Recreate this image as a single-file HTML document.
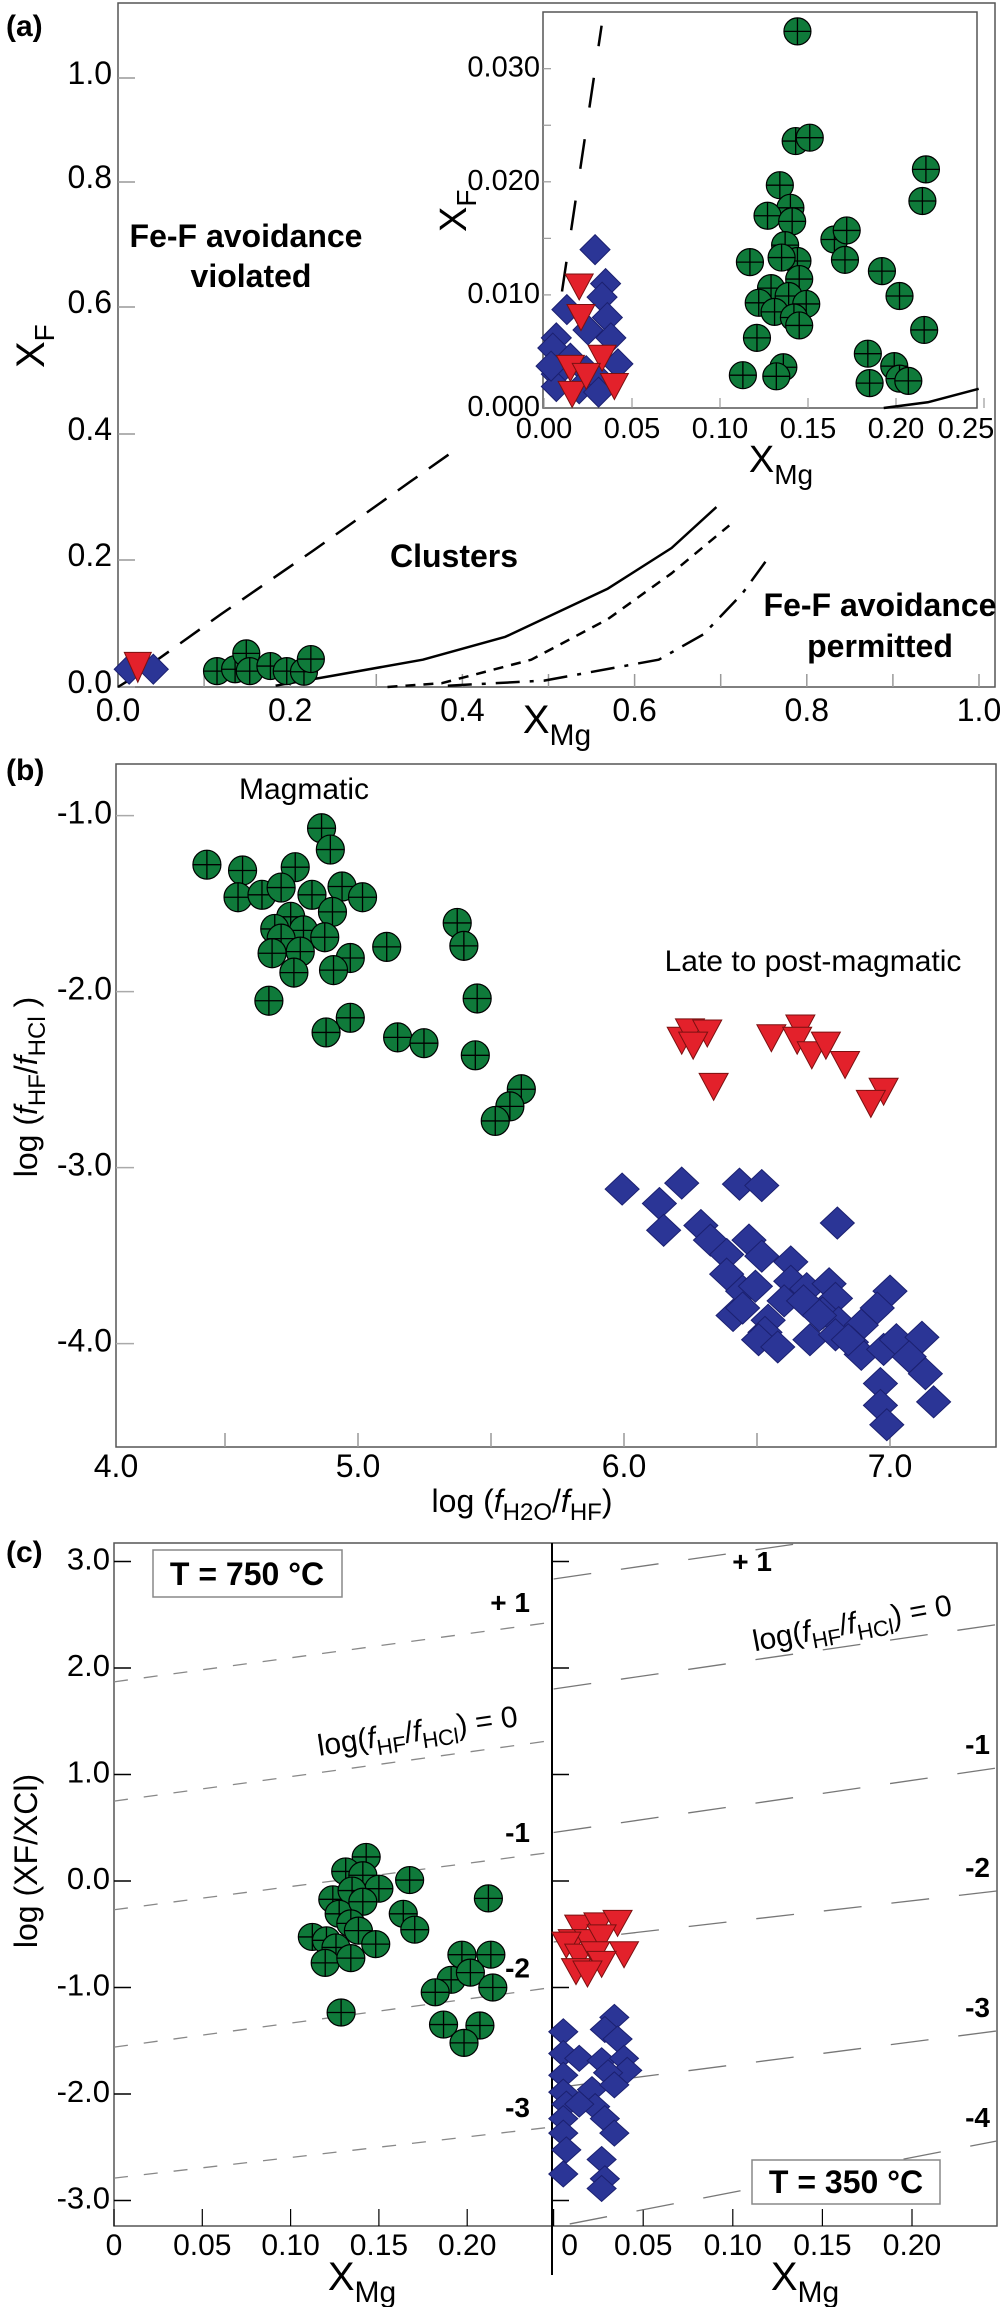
<!DOCTYPE html>
<html><head><meta charset="utf-8"><style>
html,body{margin:0;padding:0;background:#fff}
svg{display:block;font-family:"Liberation Sans",Arial,sans-serif}
.b{font-weight:bold}
</style></head><body>
<svg id="fig" xmlns="http://www.w3.org/2000/svg" width="1000" height="2307" viewBox="0 0 1000 2307">
<defs>
<clipPath id="clipC"><rect x="114" y="1543" width="883" height="683"/></clipPath>
<clipPath id="clipCL"><rect x="114" y="1543" width="438" height="683"/></clipPath>
<clipPath id="clipCR"><rect x="552" y="1543" width="445" height="683"/></clipPath>
</defs>
<g id="pa"></g>
<g id="pb"></g>
<g id="pc"></g>

<!-- static text panel a -->
<text x="6" y="36" font-size="30" class="b">(a)</text>
<text x="246" y="247" font-size="32" class="b" text-anchor="middle">Fe-F avoidance</text>
<text x="251" y="287" font-size="32" class="b" text-anchor="middle">violated</text>
<text x="454" y="567" font-size="32" class="b" text-anchor="middle">Clusters</text>
<text x="880" y="616" font-size="32" class="b" text-anchor="middle">Fe-F avoidance</text>
<text x="880" y="657" font-size="32" class="b" text-anchor="middle">permitted</text>
<text transform="translate(44,368) rotate(-90)" font-size="40">X<tspan font-size="28" dy="10">F</tspan></text>
<text x="557" y="733" font-size="40" text-anchor="middle">X<tspan font-size="30" dy="12">Mg</tspan></text>
<text transform="translate(466,232) rotate(-90)" font-size="38">X<tspan font-size="28" dy="10">F</tspan></text>
<text x="781" y="472" font-size="38" text-anchor="middle">X<tspan font-size="28" dy="12">Mg</tspan></text>

<!-- panel b text -->
<text x="6" y="780" font-size="30" class="b">(b)</text>
<text x="304" y="799" font-size="30" text-anchor="middle">Magmatic</text>
<text x="813" y="971" font-size="30" text-anchor="middle">Late to post-magmatic</text>
<text transform="translate(37,1087) rotate(-90)" font-size="32" text-anchor="middle">log (<tspan font-style="italic">f</tspan><tspan font-size="24" dy="8">HF</tspan><tspan dy="-8">/</tspan><tspan font-style="italic">f</tspan><tspan font-size="24" dy="8">HCl</tspan><tspan dy="-8"> )</tspan></text>
<text x="522" y="1512" font-size="32" text-anchor="middle">log (<tspan font-style="italic">f</tspan><tspan font-size="24" dy="8">H2O</tspan><tspan dy="-8">/</tspan><tspan font-style="italic">f</tspan><tspan font-size="24" dy="8">HF</tspan><tspan dy="-8">)</tspan></text>

<!-- panel c text -->
<text x="6" y="1562" font-size="30" class="b">(c)</text>
<rect x="153" y="1550" width="189" height="47" fill="#fff" stroke="#888" stroke-width="1.5"/>
<text x="247" y="1585" font-size="32" class="b" text-anchor="middle">T = 750 °C</text>
<rect x="752" y="2160" width="188" height="44" fill="#fff" stroke="#888" stroke-width="1.5"/>
<text x="846" y="2193" font-size="32" class="b" text-anchor="middle">T = 350 °C</text>
<text transform="translate(37,1861) rotate(-90)" font-size="32" text-anchor="middle">log (XF/XCl)</text>
<text x="362" y="2290" font-size="40" text-anchor="middle">X<tspan font-size="30" dy="12">Mg</tspan></text>
<text x="805" y="2290" font-size="40" text-anchor="middle">X<tspan font-size="30" dy="12">Mg</tspan></text>
<text transform="translate(419,1741) rotate(-8.5)" font-size="30" text-anchor="middle">log(<tspan font-style="italic">f</tspan><tspan font-size="22" dy="8">HF</tspan><tspan dy="-8">/</tspan><tspan font-style="italic">f</tspan><tspan font-size="22" dy="8">HCl</tspan><tspan dy="-8">) = 0</tspan></text>
<text transform="translate(854,1633) rotate(-10.5)" font-size="30" text-anchor="middle">log(<tspan font-style="italic">f</tspan><tspan font-size="22" dy="8">HF</tspan><tspan dy="-8">/</tspan><tspan font-style="italic">f</tspan><tspan font-size="22" dy="8">HCl</tspan><tspan dy="-8">) = 0</tspan></text>
</svg>
<script>
const NS='http://www.w3.org/2000/svg';
// ---------- DATA ----------
// Panel (a) main
const aGreenX=[0.115,0.136,0.149,0.153,0.177,0.196,0.216,0.224];
const aGreenY=[0.025,0.028,0.053,0.025,0.033,0.025,0.024,0.044];
const aBlueX=[0.013,0.041];
const aBlueY=[0.028,0.028];
const aRedX=[0.023];
const aRedY=[0.031];
const aXTicks=[0,0.2,0.4,0.6,0.8,1.0];
const aXTickLabels=['0.0','0.2','0.4','0.6','0.8','1.0'];
const aYTicks=[0,0.2,0.4,0.6,0.8,1.0];
const aYTickLabels=['0.0','0.2','0.4','0.6','0.8','1.0'];
const curveLongX=[0.0,0.012,0.12,0.227,0.339,0.395];
const curveLongY=[0.0,0.010,0.115,0.215,0.324,0.378];
const curveSolidX=[0.183,0.25,0.354,0.45,0.569,0.643,0.695];
const curveSolidY=[0.002,0.018,0.043,0.079,0.155,0.219,0.284];
const curveShortX=[0.313,0.376,0.48,0.569,0.643,0.71];
const curveShortY=[0.0,0.006,0.043,0.107,0.179,0.255];
const curveDotX=[0.383,0.495,0.628,0.68,0.725,0.755];
const curveDotY=[0.002,0.01,0.043,0.083,0.147,0.203];
// Inset
const iGreenX=[0.144,0.143,0.151,0.217,0.215,0.134,0.140,0.127,0.141,0.165,0.172,0.137,0.171,0.117,0.144,0.135,0.145,0.192,0.202,0.129,0.122,0.139,0.149,0.131,0.142,0.145,0.216,0.121,0.184,0.136,0.199,0.113,0.132,0.185,0.202,0.207];
const iGreenY=[0.0333,0.0236,0.0239,0.0211,0.0183,0.0197,0.0177,0.0170,0.0165,0.0149,0.0157,0.0144,0.0131,0.0129,0.0130,0.0133,0.0114,0.0121,0.0099,0.0106,0.0093,0.0099,0.0092,0.0085,0.0080,0.0073,0.0069,0.0062,0.0048,0.0036,0.0037,0.0029,0.0028,0.0022,0.0026,0.0024];
const iBlueX=[0.029,0.035,0.033,0.036,0.038,0.042,0.007,0.005,0.015,0.007,0.024,0.031,0.007,0.020,0.031,0.013,0.025,0.004];
const iBlueY=[0.0140,0.0110,0.0098,0.0080,0.0062,0.0039,0.0062,0.0053,0.0044,0.0030,0.0033,0.0026,0.0019,0.0017,0.0014,0.0087,0.0069,0.0037];
const iRedX=[0.020,0.021,0.033,0.040,0.015,0.016,0.024];
const iRedY=[0.0107,0.0080,0.0044,0.0019,0.0035,0.0012,0.0028];
const iXTicks=[0,0.05,0.10,0.15,0.20,0.25];
const iXTickLabels=['0.00','0.05','0.10','0.15','0.20','0.25'];
const iYTicks=[0,0.010,0.020,0.030];
const iYTickLabels=['0.000','0.010','0.020','0.030'];
const iDashX=[0.0102,0.0327];
const iDashY=[0.0103,0.0338];
const iSolidX=[0.193,0.218,0.247];
const iSolidY=[0.0,0.0005,0.0017];
// Panel (b)
const bGreenX=[4.863,4.896,4.417,4.566,4.764,4.549,4.639,4.711,4.827,4.940,5.017,4.904,4.747,4.687,4.795,4.875,4.711,4.677,4.783,4.971,4.908,4.759,5.108,5.373,5.398,4.665,5.448,4.971,4.880,5.149,5.248,5.441,5.614,5.571,5.516];
const bGreenY=[-1.072,-1.193,-1.279,-1.312,-1.293,-1.464,-1.450,-1.409,-1.450,-1.403,-1.464,-1.547,-1.575,-1.644,-1.652,-1.691,-1.699,-1.782,-1.773,-1.809,-1.878,-1.892,-1.746,-1.610,-1.740,-2.052,-2.039,-2.149,-2.232,-2.260,-2.293,-2.362,-2.555,-2.652,-2.735];
const bRedX=[6.217,6.248,6.313,6.260,6.337,6.554,6.663,6.651,6.706,6.759,6.831,6.976,6.928];
const bRedY=[-2.279,-2.232,-2.238,-2.307,-2.541,-2.265,-2.210,-2.279,-2.362,-2.307,-2.417,-2.569,-2.638];
const bBlueX=[5.993,6.217,6.434,6.518,6.133,6.149,6.289,6.325,6.470,6.386,6.518,6.627,6.386,6.446,6.494,6.627,6.687,6.771,6.802,6.602,6.675,6.795,7.000,6.410,6.542,6.747,6.952,6.530,6.807,6.892,6.506,6.578,6.699,6.795,6.855,6.892,6.976,7.024,7.120,7.072,7.133,6.964,6.964,6.988,7.164,6.843,6.735,6.446];
const bBlueY=[-3.122,-3.088,-3.094,-3.102,-3.204,-3.356,-3.329,-3.412,-3.412,-3.494,-3.503,-3.536,-3.605,-3.702,-3.674,-3.646,-3.688,-3.660,-3.315,-3.757,-3.757,-3.743,-3.702,-3.840,-3.867,-3.826,-3.798,-3.936,-3.881,-3.895,-3.978,-4.019,-3.978,-3.950,-3.992,-4.061,-4.033,-3.978,-3.964,-4.075,-4.171,-4.227,-4.351,-4.461,-4.331,-3.978,-3.840,-3.798];
const bXTicks=[4.0,5.0,6.0,7.0];
const bXTickLabels=['4.0','5.0','6.0','7.0'];
const bXMinor=[4.5,5.0,5.5,6.0,6.5,7.0];
const bYTicks=[-1,-2,-3,-4];
const bYTickLabels=['-1.0','-2.0','-3.0','-4.0'];
// Panel (c)
const cGreenX=[0.1428,0.1312,0.1409,0.150,0.1239,0.1348,0.1275,0.1409,0.1341,0.1384,0.1123,0.1203,0.1257,0.1482,0.1196,0.1341,0.1674,0.1638,0.1703,0.212,0.197,0.2134,0.1909,0.2018,0.1819,0.2145,0.1286,0.1866,0.2072,0.1982];
const cGreenY=[0.226,0.090,0.054,-0.072,-0.172,-0.090,-0.308,-0.195,-0.398,-0.466,-0.525,-0.557,-0.624,-0.593,-0.769,-0.724,0.009,-0.308,-0.457,-0.163,-0.692,-0.692,-0.928,-0.860,-1.045,-1.000,-1.235,-1.348,-1.357,-1.520];
const cRedX=[0.0143,0.025,0.0357,0.0107,0.0196,0.0268,0.0071,0.0143,0.0232,0.0393,0.0268,0.0125,0.0189];
const cRedY=[-0.443,-0.421,-0.398,-0.579,-0.579,-0.534,-0.602,-0.715,-0.692,-0.692,-0.783,-0.851,-0.873];
const cBlueX=[0.0054,0.0339,0.0286,0.0357,0.0054,0.0143,0.0268,0.0393,0.0411,0.0054,0.0304,0.0054,0.0214,0.0339,0.0071,0.0232,0.0286,0.0054,0.0339,0.0054,0.0071,0.0268,0.0054,0.0286,0.0268,0.0143];
const cBlueY=[-1.416,-1.281,-1.394,-1.484,-1.620,-1.665,-1.688,-1.665,-1.778,-1.824,-1.801,-1.982,-1.959,-1.914,-2.095,-2.118,-2.231,-2.231,-2.367,-2.367,-2.525,-2.615,-2.751,-2.796,-2.887,-2.095];
const cYTicks=[3,2,1,0,-1,-2,-3];
const cYTickLabels=['3.0','2.0','1.0','0.0','-1.0','-2.0','-3.0'];
const cXTicks=[0,0.05,0.10,0.15,0.20];
const cXTickLabels=['0','0.05','0.10','0.15','0.20'];
const cLeftContourLabels=['+ 1','','-1','-2','-3'];
const cLeftStart=[1.87,0.75,-0.27,-1.56,-2.79];
const cLeftEnd=[2.43,1.32,0.27,-1.00,-2.31];
const cRightContourLabels=['+ 1','','-1','-2','-3','-4'];
const cRightStartX=[0,0,0,0,0,0.009];
const cRightStart=[2.836,1.803,0.455,-0.573,-1.944,-3.22];
const cRightEnd=[3.437,2.408,1.061,-0.094,-1.408,-2.441];

// ---------- SCALES ----------
function pw(vs,ps){return function(v){let i=0;while(i<vs.length-2&&v>vs[i+1])i++;return ps[i]+(v-vs[i])*(ps[i+1]-ps[i])/(vs[i+1]-vs[i]);};}
const xA=v=>118+v*861;
const yA=pw([0,0.2,0.4,0.6,0.8,1.0],[687,560,434,307,182,78]);
const xI=v=>544+v*1760;
const yI=v=>408-v*11310;
const xB=pw([4,4.5,5,5.5,6,6.5,7],[116,225,358,491,624,757,890]);
const yB=v=>815.6+(-1-v)*176;
const xCL=v=>114+v*1766;
const xCR=v=>553.6+v*1792;
const yC=v=>1881-v*106.5;
const cXEnd=0.2474, cLXEnd=0.248;

// ---------- HELPERS ----------
function mk(parent,tag,attrs){const el=document.createElementNS(NS,tag);for(const k in attrs)el.setAttribute(k,attrs[k]);parent.appendChild(el);return el;}
function txt(parent,x,y,s,fs,anchor,name){const el=mk(parent,'text',{x:x,y:y,'font-size':fs,'text-anchor':anchor});el.textContent=s;


return el;}
function line(parent,x1,y1,x2,y2,stroke,w,name,dash){const el=mk(parent,'line',{x1:x1,y1:y1,x2:x2,y2:y2,stroke:stroke,'stroke-width':w});if(dash)el.setAttribute('stroke-dasharray',dash);


return el;}
function green(parent,x,y,rx,ry,name){const g=mk(parent,'g',{});


mk(g,'ellipse',{cx:x,cy:y,rx:rx,ry:ry,fill:'#0f7a3a',stroke:'#000','stroke-width':1.2});
mk(g,'line',{x1:x-rx,y1:y,x2:x+rx,y2:y,stroke:'#000','stroke-width':1.3});
mk(g,'line',{x1:x,y1:y-ry,x2:x,y2:y+ry,stroke:'#000','stroke-width':1.3});}
function blue(parent,x,y,hw,hh,name){const el=mk(parent,'polygon',{points:`${x},${y-hh} ${x+hw},${y} ${x},${y+hh} ${x-hw},${y}`,fill:'#2b3596',stroke:'#1b2070','stroke-width':1});

}
function red(parent,x,y,w,h,name){const el=mk(parent,'polygon',{points:`${x-w/2},${y-h/2} ${x+w/2},${y-h/2} ${x},${y+h/2}`,fill:'#e3212b',stroke:'#7a1010','stroke-width':1});

}
function curve(parent,xs,ys,sx,sy,dash,name){let d='';for(let i=0;i<xs.length;i++){d+=(i?'L':'M')+sx(xs[i]).toFixed(1)+','+sy(ys[i]).toFixed(1);}
const el=mk(parent,'path',{d:d,fill:'none',stroke:'#000','stroke-width':2.5,'stroke-linejoin':'round'});if(dash)el.setAttribute('stroke-dasharray',dash);

}

// ---------- PANEL A ----------
const pa=document.getElementById('pa');
const fa=mk(pa,'rect',{x:118,y:3,width:877,height:684,fill:'none',stroke:'#555','stroke-width':1.5});


for(let i=0;i<aYTicks.length;i++){line(pa,118,yA(aYTicks[i]),135,yA(aYTicks[i]),'#999',1.5,'a-y-tick');
txt(pa,112,yA(aYTicks[i])+6,aYTickLabels[i],32,'end','a-y-tick-label');}
for(let v=0.1;v<1.01;v+=0.1){line(pa,xA(v),687,xA(v),674,'#999',1.5,'a-x-tick');}
for(let i=0;i<aXTicks.length;i++){txt(pa,xA(aXTicks[i]),721,aXTickLabels[i],32,'middle','a-x-tick-label');}
curve(pa,curveLongX,curveLongY,xA,yA,'24,14','curve-long-dash');
curve(pa,curveSolidX,curveSolidY,xA,yA,null,'curve-solid');
curve(pa,curveShortX,curveShortY,xA,yA,'10,8','curve-short-dash');
curve(pa,curveDotX,curveDotY,xA,yA,'24,10,4,10','curve-dash-dot');
for(let i=0;i<aGreenX.length;i++)green(pa,xA(aGreenX[i]),yA(aGreenY[i]),13.5,13.5,'a-magmatic-point');
for(let i=0;i<aBlueX.length;i++)blue(pa,xA(aBlueX[i]),yA(aBlueY[i]),15,15,'a-late-diamond');
for(let i=0;i<aRedX.length;i++)red(pa,xA(aRedX[i]),yA(aRedY[i]),27,30,'a-red-triangle');
// inset
const ins=mk(pa,'g',{});


const ir=mk(ins,'rect',{x:543,y:12,width:434,height:396,fill:'#fff',stroke:'#555','stroke-width':1.5});


for(let v=0.005;v<0.034;v+=0.005){line(ins,543,yI(v),551,yI(v),'#999',1.2,'inset-y-tick');}
for(let i=0;i<iYTicks.length;i++){txt(ins,540,yI(iYTicks[i])+8,iYTickLabels[i],29,'end','inset-y-tick-label');}
for(let i=0;i<iXTicks.length;i++){line(ins,xI(iXTicks[i]),408,xI(iXTicks[i]),398,'#999',1.2,'inset-x-tick');
const tx=Math.min(xI(iXTicks[i]),966);txt(ins,tx,438,iXTickLabels[i],29,'middle','inset-x-tick-label');}
curve(ins,iDashX,iDashY,xI,yI,'30,32','inset-dash-curve');
curve(ins,iSolidX,iSolidY,xI,yI,null,'inset-solid-curve');
for(let i=0;i<iGreenX.length;i++)green(ins,xI(iGreenX[i]),yI(iGreenY[i]),13.5,13.5,'inset-magmatic-point');
for(let i=0;i<iBlueX.length;i++)blue(ins,xI(iBlueX[i]),yI(iBlueY[i]),15,15,'inset-late-diamond');
for(let i=0;i<iRedX.length;i++)red(ins,xI(iRedX[i]),yI(iRedY[i]),28,26,'inset-red-triangle');

// ---------- PANEL B ----------
const pb=document.getElementById('pb');
const fb=mk(pb,'rect',{x:116,y:764,width:880,height:683,fill:'none',stroke:'#555','stroke-width':1.5});


for(let i=0;i<bYTicks.length;i++){line(pb,116,yB(bYTicks[i]),134,yB(bYTicks[i]),'#aaa',1.5,'b-y-tick');
txt(pb,112,yB(bYTicks[i])+8,bYTickLabels[i],32,'end','b-y-tick-label');}
for(let i=0;i<bXMinor.length;i++){line(pb,xB(bXMinor[i]),1447,xB(bXMinor[i]),1433,'#999',1.5,'b-x-tick');}
for(let i=0;i<bXTicks.length;i++){txt(pb,xB(bXTicks[i]),1477,bXTickLabels[i],32,'middle','b-x-tick-label');}
for(let i=0;i<bGreenX.length;i++)green(pb,xB(bGreenX[i]),yB(bGreenY[i]),14,14.5,'b-magmatic-point');
for(let i=0;i<bRedX.length;i++)red(pb,xB(bRedX[i]),yB(bRedY[i]),29,27,'b-red-triangle');
for(let i=0;i<bBlueX.length;i++)blue(pb,xB(bBlueX[i]),yB(bBlueY[i]),17,16,'b-late-diamond');

// ---------- PANEL C ----------
const pc=document.getElementById('pc');
const fc=mk(pc,'rect',{x:114,y:1543,width:883,height:683,fill:'none',stroke:'#555','stroke-width':1.5});


line(pc,552,1543,552,2275,'#000',2,'c-divider');
for(let i=0;i<cYTicks.length;i++){const y=yC(cYTicks[i]);line(pc,114,y,131,y,'#000',1.5,'c-left-y-tick');line(pc,552,y,569,y,'#000',1.5,'c-right-y-tick');
txt(pc,110,y+8,cYTickLabels[i],31,'end','c-y-tick-label');}
for(let i=0;i<cXTicks.length;i++){line(pc,xCL(cXTicks[i]),2226,xCL(cXTicks[i]),2209,'#000',1.2,'c-left-x-tick');
txt(pc,xCL(cXTicks[i]),2255,cXTickLabels[i],30,'middle','c-left-x-tick-label');
line(pc,xCR(cXTicks[i]),2226,xCR(cXTicks[i]),2209,'#000',1.2,'c-right-x-tick');
txt(pc,i===0?xCR(cXTicks[i])+16:xCR(cXTicks[i]),2255,cXTickLabels[i],30,'middle','c-right-x-tick-label');}
const gl=mk(pc,'g',{'clip-path':'url(#clipCL)'});


for(let i=0;i<cLeftStart.length;i++){line(gl,xCL(0),yC(cLeftStart[i]),xCL(cLXEnd),yC(cLeftEnd[i]),'#888',1.3,'c-left-contour-line','14,16');}
const gr=mk(pc,'g',{'clip-path':'url(#clipCR)'});


for(let i=0;i<cRightStart.length;i++){line(gr,xCR(cRightStartX[i]),yC(cRightStart[i]),xCR(cXEnd),yC(cRightEnd[i]),'#777',1.3,'c-right-contour-line','38,30');}
for(let i=0;i<cLeftContourLabels.length;i++){if(!cLeftContourLabels[i])continue;const el=txt(pc,530,yC(cLeftEnd[i])-10,cLeftContourLabels[i],28,'end','c-left-contour-label');el.setAttribute('font-weight','bold');}
for(let i=0;i<cRightContourLabels.length;i++){if(!cRightContourLabels[i])continue;
let x=990,y=yC(cRightEnd[i])-14;if(i===0){x=772;y=1571;}
const el=txt(pc,x,y,cRightContourLabels[i],28,'end','c-right-contour-label');el.setAttribute('font-weight','bold');}
for(let i=0;i<cGreenX.length;i++)green(pc,xCL(cGreenX[i]),yC(cGreenY[i]),14,13.5,'c-magmatic-point');
for(let i=0;i<cBlueX.length;i++)blue(pc,xCR(cBlueX[i]),yC(cBlueY[i]),14.5,13,'c-late-diamond');
for(let i=0;i<cRedX.length;i++)red(pc,xCR(cRedX[i]),yC(cRedY[i]),29,26,'c-red-triangle');
</script>
</body></html>
